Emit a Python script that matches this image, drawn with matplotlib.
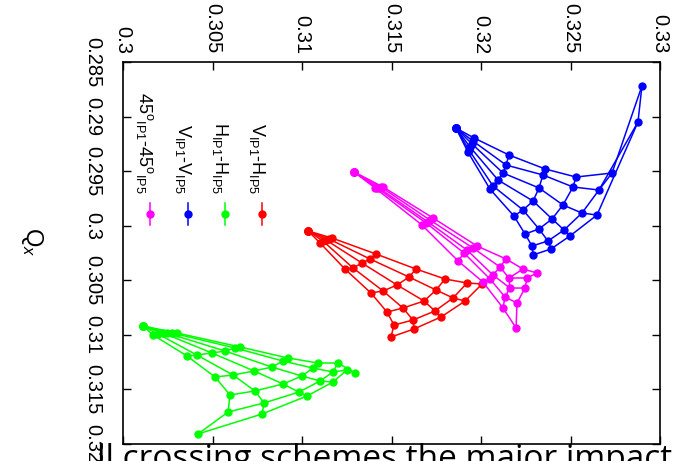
import numpy as np
import matplotlib
matplotlib.use('Agg')
import matplotlib.pyplot as plt

plt.rcParams['font.family'] = ['Liberation Sans', 'DejaVu Sans']
plt.rcParams['mathtext.fontset'] = 'custom'
plt.rcParams['mathtext.rm'] = 'Liberation Sans'
plt.rcParams['mathtext.it'] = 'Liberation Sans:italic'

# tune footprints: one row per amplitude ring, one column per angle
red_qx = [
    [0.30048, 0.30048, 0.30048, 0.30048, 0.30048],
    [0.30113, 0.30122, 0.30131, 0.30140, 0.30158],
    [0.30259, 0.30305, 0.30342, 0.30387, 0.30397],
    [0.30397, 0.30470, 0.30543, 0.30598, 0.30616],
    [0.30488, 0.30589, 0.30690, 0.30754, 0.30791],
    [0.30525, 0.30662, 0.30781, 0.30864, 0.30910],
    [0.30534, 0.30690, 0.30836, 0.30946, 0.31020],
]
red_qy = [
    [0.31034, 0.31034, 0.31034, 0.31034, 0.31034],
    [0.31168, 0.31151, 0.31134, 0.31117, 0.31101],
    [0.31413, 0.31380, 0.31335, 0.31285, 0.31240],
    [0.31637, 0.31598, 0.31531, 0.31453, 0.31385],
    [0.31799, 0.31749, 0.31682, 0.31564, 0.31475],
    [0.31922, 0.31844, 0.31743, 0.31620, 0.31514],
    [0.32006, 0.31911, 0.31777, 0.31626, 0.31497],
]

green_qx = [
    [0.30919, 0.30919, 0.30919, 0.30919, 0.30919, 0.30919],
    [0.31001, 0.30992, 0.30983, 0.30983, 0.30983, 0.30983],
    [0.31194, 0.31185, 0.31166, 0.31148, 0.31120, 0.31111],
    [0.31386, 0.31368, 0.31331, 0.31295, 0.31240, 0.31212],
    [0.31551, 0.31514, 0.31450, 0.31377, 0.31304, 0.31258],
    [0.31707, 0.31624, 0.31524, 0.31423, 0.31340, 0.31258],
    [0.31908, 0.31725, 0.31560, 0.31432, 0.31322, 0.31349],
]
green_qy = [
    [0.30112, 0.30112, 0.30112, 0.30112, 0.30112, 0.30112],
    [0.30168, 0.30196, 0.30223, 0.30246, 0.30274, 0.30302],
    [0.30358, 0.30413, 0.30497, 0.30570, 0.30626, 0.30654],
    [0.30514, 0.30615, 0.30732, 0.30832, 0.30894, 0.30922],
    [0.30598, 0.30737, 0.30894, 0.31000, 0.31061, 0.31089],
    [0.30587, 0.30788, 0.30983, 0.31101, 0.31173, 0.31201],
    [0.30419, 0.30777, 0.31028, 0.31173, 0.31251, 0.31296],
]

blue_qx = [
    [0.29105, 0.29105, 0.29105, 0.29105, 0.29105, 0.29105],
    [0.29196, 0.29224, 0.29251, 0.29279, 0.29306, 0.29325],
    [0.29352, 0.29444, 0.29517, 0.29581, 0.29636, 0.29664],
    [0.29480, 0.29535, 0.29654, 0.29774, 0.29856, 0.29911],
    [0.29554, 0.29645, 0.29810, 0.29938, 0.30030, 0.30076],
    [0.29517, 0.29673, 0.29884, 0.30039, 0.30140, 0.30186],
    [0.28720, 0.29050, 0.29902, 0.30094, 0.30213, 0.30268],
]
blue_qy = [
    [0.31860, 0.31860, 0.31860, 0.31860, 0.31860, 0.31860],
    [0.31961, 0.31955, 0.31950, 0.31939, 0.31933, 0.31927],
    [0.32156, 0.32140, 0.32123, 0.32095, 0.32067, 0.32050],
    [0.32358, 0.32346, 0.32324, 0.32291, 0.32235, 0.32184],
    [0.32531, 0.32514, 0.32458, 0.32397, 0.32324, 0.32246],
    [0.32732, 0.32659, 0.32564, 0.32464, 0.32374, 0.32285],
    [0.32899, 0.32877, 0.32648, 0.32497, 0.32391, 0.32291],
]

magenta_qx = [
    [0.29508, 0.29508, 0.29508, 0.29508, 0.29508],
    [0.29654, 0.29654, 0.29654, 0.29645, 0.29645],
    [0.29993, 0.29975, 0.29966, 0.29948, 0.29929],
    [0.30323, 0.30250, 0.30223, 0.30204, 0.30186],
    [0.30516, 0.30488, 0.30452, 0.30378, 0.30305],
    [0.30754, 0.30653, 0.30571, 0.30479, 0.30397],
    [0.30937, 0.30708, 0.30571, 0.30479, 0.30433],
]
magenta_qy = [
    [0.31291, 0.31291, 0.31291, 0.31291, 0.31291],
    [0.31408, 0.31419, 0.31430, 0.31441, 0.31453],
    [0.31670, 0.31693, 0.31704, 0.31715, 0.31732],
    [0.31872, 0.31905, 0.31922, 0.31955, 0.31978],
    [0.32011, 0.32050, 0.32067, 0.32106, 0.32140],
    [0.32123, 0.32134, 0.32162, 0.32156, 0.32235],
    [0.32196, 0.32201, 0.32246, 0.32257, 0.32313],
]

series = [
    (red_qx, red_qy, '#ff0000', r'V$_{\rm IP1}$-H$_{\rm IP5}$'),
    (green_qx, green_qy, '#00ff00', r'H$_{\rm IP1}$-H$_{\rm IP5}$'),
    (blue_qx, blue_qy, '#0000ff', r'V$_{\rm IP1}$-V$_{\rm IP5}$'),
    (magenta_qx, magenta_qy, '#ff00ff', r'45$^{\rm o}$$_{\rm IP1}$-45$^{\rm o}$$_{\rm IP5}$'),
]

qy_ticks = [0.3, 0.305, 0.31, 0.315, 0.32, 0.325, 0.33]
qx_ticks = [0.285, 0.29, 0.295, 0.3, 0.305, 0.31, 0.315, 0.32]

W, H = 673, 461
fig = plt.figure(figsize=(W / 100, H / 100), dpi=100)
# plot is laid out sideways: Qy runs left->right, Qx runs top->bottom
ax = fig.add_axes([123 / W, 17 / H, 537 / W, 382 / H])

for qx, qy, color, label in series:
    qx = np.array(qx)
    qy = np.array(qy)
    for k in range(qx.shape[1]):
        ax.plot(qy[:, k], qx[:, k], '-', color=color, lw=1.1)
    for a in range(qx.shape[0]):
        ax.plot(qy[a], qx[a], '-', color=color, lw=1.1)
    ax.plot(qy.ravel(), qx.ravel(), 'o', color=color, ms=5, mec=color)

ax.set_xlim(0.3, 0.33)
ax.set_ylim(0.32, 0.285)
ax.set_xticks(qy_ticks)
ax.set_xticklabels([f'{v:g}' for v in qy_ticks])
ax.set_yticks(qx_ticks)
ax.set_yticklabels([f'{v:g}' for v in qx_ticks])
ax.tick_params(axis='x', top=True, bottom=True, labeltop=True, labelbottom=False,
               direction='in', length=6, width=1, labelsize=14.5, labelrotation=-90, pad=6)
ax.tick_params(axis='y', left=True, right=True, direction='in', length=6, width=1,
               labelsize=14.5, labelrotation=-90, pad=15)
for t in ax.get_yticklabels():
    t.set_va('center')
for s in ax.spines.values():
    s.set_linewidth(1.2)

ax.set_ylabel('Q$_x$', fontsize=17, rotation=-90, ha='center', va='center')
ax.yaxis.set_label_coords(-0.17, 0.53)

# sideways key, one column per footprint
key_x = [262, 225, 188, 150]
for (qx, qy, color, label), kx in zip(series, key_x):
    xa = (kx - 123) / 537
    ax.plot([xa, xa], [(444 - 203) / 382, (444 - 225) / 382], '-', color=color, lw=1.1,
            transform=ax.transAxes, clip_on=False)
    ax.plot([xa], [(444 - 214) / 382], 'o', color=color, ms=5, transform=ax.transAxes)
    ax.text(xa - 5 / 537, (444 - 194) / 382, label, rotation=-90, fontsize=13,
            ha='center', va='bottom', transform=ax.transAxes)

fig.text(97 / W, -7 / H, 'll crossing schemes the major impact', fontsize=24,
         family=['Open Sans', 'DejaVu Sans'], color='black', va='baseline', ha='left',
         zorder=10)

fig.savefig('out.png', dpi=100)
